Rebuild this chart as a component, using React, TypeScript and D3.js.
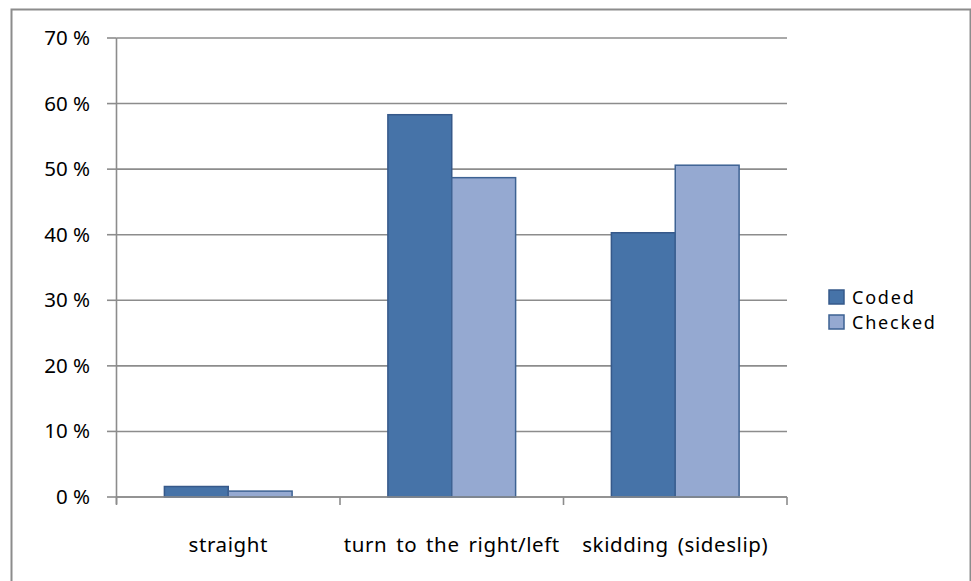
import React from "react";
import * as d3 from "d3";

// Share of cases per manoeuvre type
const categories = ["straight", "turn to the right/left", "skidding (sideslip)"];
const seriesNames = ["Coded", "Checked"];
const codedValues = [0.016, 0.583, 0.403];
const checkedValues = [0.009, 0.487, 0.506];
const yTicks = [0, 0.1, 0.2, 0.3, 0.4, 0.5, 0.6, 0.7];

const fills = ["#4673a8", "#95a9d1"];
const strokes = ["#36598a", "#3d6293"];
const gridColor = "#8c8c8c";
const font = "'Noto Sans', 'Open Sans', sans-serif";

export default function App() {
  const width = 971;
  const height = 581;
  const left = 116.5;
  const right = 787;
  const top = 38;
  const bottom = 497;

  const y = d3.scaleLinear().domain([0, 0.7]).range([bottom, top]);
  const x = d3.scaleBand<string>().domain(categories).range([left, right]).padding(0);
  const inner = d3
    .scaleBand<string>()
    .domain(seriesNames)
    .range([0, x.bandwidth()])
    .paddingInner(0)
    .paddingOuter(0.75);

  const series = [codedValues, checkedValues];
  const boundaries = [...categories.map((c) => x(c) as number), right];

  return (
    <svg
      width={width}
      height={height}
      style={{ position: "absolute", left: 0, top: 0, background: "#fff" }}
      fontFamily={font}
    >
      <rect x={11.5} y={9.5} width={959} height={600} fill="#fff" stroke={gridColor} strokeWidth={2} />

      {/* gridlines and y-axis tick marks */}
      {yTicks.map((t) => (
        <g key={t}>
          <line x1={left} x2={right} y1={y(t)} y2={y(t)} stroke={gridColor} strokeWidth={1.6} />
          <line x1={107} x2={left} y1={y(t)} y2={y(t)} stroke={gridColor} strokeWidth={1.6} />
          <text x={90} y={y(t) + 7} textAnchor="end" fontSize={20.5} fill="#000">
            {`${Math.round(t * 100)} %`}
          </text>
        </g>
      ))}

      {/* bars */}
      {series.map((vals, si) =>
        categories.map((c, ci) => {
          const bx = (x(c) as number) + (inner(seriesNames[si]) as number);
          const by = y(vals[ci]);
          return (
            <rect
              key={`${si}-${ci}`}
              x={bx}
              y={by}
              width={inner.bandwidth()}
              height={bottom - by}
              fill={fills[si]}
              stroke={strokes[si]}
              strokeWidth={1.5}
            />
          );
        })
      )}

      {/* axes */}
      <line x1={left} x2={left} y1={top} y2={bottom + 7} stroke={gridColor} strokeWidth={1.6} />
      <line x1={left} x2={right} y1={bottom} y2={bottom} stroke={gridColor} strokeWidth={1.6} />
      {boundaries.map((b, i) => (
        <line key={i} x1={b} x2={b} y1={bottom} y2={bottom + 8} stroke={gridColor} strokeWidth={1.6} />
      ))}

      {categories.map((c) => (
        <text
          key={c}
          x={(x(c) as number) + x.bandwidth() / 2}
          y={552}
          textAnchor="middle"
          fontSize={20.5}
          letterSpacing={0.6}
          wordSpacing={3}
          fill="#000"
        >
          {c}
        </text>
      ))}

      {/* legend */}
      {seriesNames.map((s, i) => (
        <g key={s} transform={`translate(829, ${290 + i * 25})`}>
          <rect x={0} y={0} width={15} height={14} fill={fills[i]} stroke={strokes[i]} strokeWidth={1.5} />
          <text x={23} y={13.5} fontSize={18} letterSpacing={1.8} fill="#000">
            {s}
          </text>
        </g>
      ))}
    </svg>
  );
}
